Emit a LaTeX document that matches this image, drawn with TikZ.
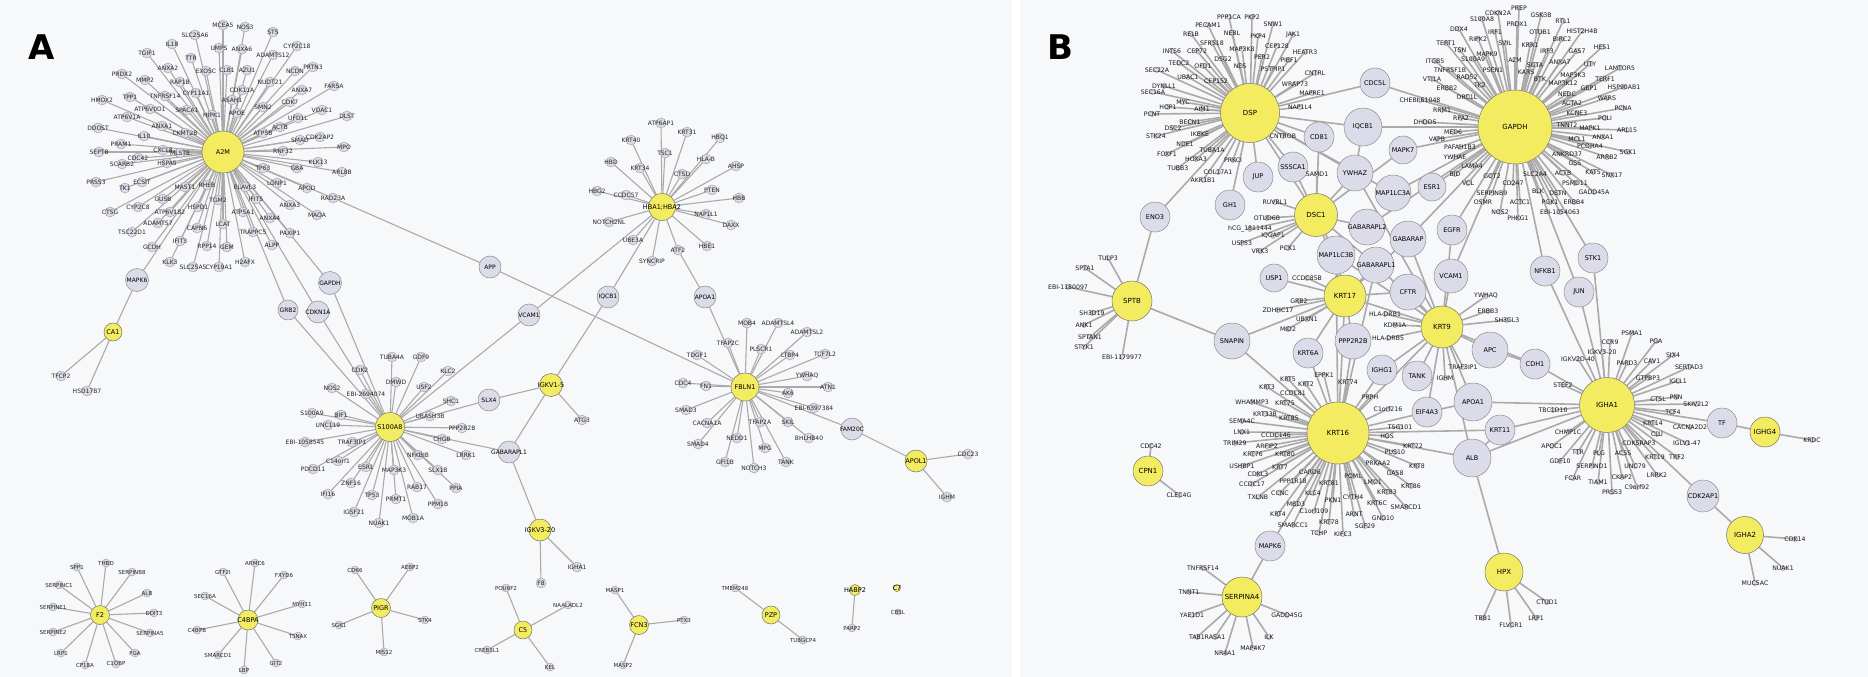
\documentclass[tikz,border=0pt]{standalone}
\usepackage{fontspec}
\setmainfont{DejaVu Sans}
\definecolor{hubyellow}{RGB}{244,236,96}
\definecolor{genelav}{RGB}{219,219,233}
\definecolor{edgegray}{RGB}{172,170,168}
\definecolor{paperbg}{RGB}{247,248,250}
\pgfdeclarelayer{paper}
\pgfdeclarelayer{edges}
\pgfsetlayers{paper,edges,main}
\tikzset{
  hubA/.style={circle, draw=black!55, fill=hubyellow, inner sep=0pt, line width=0.5pt},
  hubAtxt/.style={font=\fontsize{6.5}{6.5}\selectfont, inner sep=0pt},
  bigA/.style={circle, draw=black!45, fill=genelav, inner sep=0pt, line width=0.5pt},
  bigAtxt/.style={font=\fontsize{6}{6}\selectfont, inner sep=0pt},
  hubB/.style={circle, draw=black!55, fill=hubyellow, inner sep=0pt, line width=0.5pt},
  hubBtxt/.style={font=\fontsize{7}{7}\selectfont, inner sep=0pt},
  bigB/.style={circle, draw=black!45, fill=genelav, inner sep=0pt, line width=0.5pt},
  bigBtxt/.style={font=\fontsize{6.5}{6.5}\selectfont, inner sep=0pt},
  dotA/.style={circle, draw=black!40, fill=genelav, minimum size=10pt, inner sep=0pt, line width=0.4pt},
  txtA/.style={font=\fontsize{6}{6}\selectfont, inner sep=0pt, text=black!85},
  dotS/.style={circle, draw=black!40, fill=genelav, minimum size=8pt, inner sep=0pt, line width=0.4pt},
  txtS/.style={font=\fontsize{5.5}{5.5}\selectfont, inner sep=0pt, text=black!85},
  dotB/.style={circle, draw=black!45, fill=genelav, minimum size=5pt, inner sep=0pt, line width=0.4pt},
  txtB/.style={font=\fontsize{6.2}{6.2}\selectfont, inner sep=0pt, text=black!90},
  linkA/.style={draw=edgegray, line width=1.1pt},
  linkB/.style={draw=edgegray, line width=1.6pt},
  panel/.style={font=\bfseries\fontsize{34}{34}\selectfont, inner sep=0pt}
}
% hub, dot style, text style, list of x/y/label; remembers how many
\newcommand{\spokes}[4]{%
  \foreach \px/\py/\lb [count=\i] in {#4}{%
    \node[#2, label={[#3]center:{\lb}}] (#1-\i) at (\px,\py) {};
    \expandafter\xdef\csname nsp#1\endcsname{\i}%
  }}
% style, size, name, position, text
\newcommand{\gene}[5]{\node[#1, minimum size=#2, label={[#1txt]center:{#5}}] (#3) at (#4) {};}
\begin{document}
\begin{tikzpicture}[x=1pt, y=-1pt, line cap=round]
\useasboundingbox (0,0) rectangle (1868,677);
\begin{pgfonlayer}{paper}
  \fill[white] (0,0) rectangle (1868,677);
  \fill[paperbg] (0,0) rectangle (1012,677);
  \fill[paperbg] (1020,0) rectangle (1868,677);
\end{pgfonlayer}
\node[panel] (labA) at (42,47) {A};
\node[panel] (labB) at (1060,47) {B};

%% panel A
\gene{hubA}{42pt}{a2m}{223,152}{A2M}
\spokes{a2m}{dotA}{txtA}{223/25/MCEA5, 245/27/NOS3, 273/32/STS, 195/35/SLC25A6, 297/46/CYP2C18, 172/44/IL18, 219/48/UMPS, 242/49/ANXA6, 273/55/ADAMTS12, 147/53/TGIF1, 191/58/TTR, 168/68/ANXA2, 206/71/EXOSC, 227/70/CLB1, 247/70/AZU1, 295/71/NCDN, 313/67/PRTN3, 122/74/PRDX2, 145/80/MMP2, 180/82/RAP1B, 270/82/NUDT21, 242/90/CDK11A, 302/90/ANXA7, 334/86/FARSA, 130/97/TPP1, 165/96/TNFRSF14, 196/93/CYP11A1, 232/100/ASAH1, 263/107/SMN2, 290/102/CDK7, 102/100/HMOX2, 150/109/ATP6V0D1, 187/110/SPACA1, 212/115/HIPK1, 237/113/APOE, 322/110/VDAC1, 347/116/DLST, 127/117/ATP6V1A, 298/118/UFD1L, 98/128/DDOST, 162/126/ANXA1, 185/133/CKMT2B, 280/127/ACTB, 263/133/ATP5B, 144/136/IL10, 320/137/CDK2AP2, 300/140/SMAD, 121/144/PRAM1, 99/152/SEPT8, 163/150/CXCL8, 283/151/RNF32, 344/147/MPO, 122/164/SCARB2, 138/158/CDC42, 180/153/MLST8, 318/162/KLK13, 263/168/TP63, 297/168/GBA, 342/172/ARL8B, 167/163/HSPA5, 96/182/PRSS3, 125/188/TK1, 142/182/ECSIT, 185/187/MAST1, 207/185/RHEB, 245/187/ELAVL3, 277/183/LONP1, 307/188/APOD, 110/212/CTSG, 138/207/CYP2C8, 163/199/GUSB, 218/200/TGM2, 256/199/IFIT5, 290/205/ANXA3, 317/215/MAOA, 170/212/ATP6V1B2, 198/207/HSPD1, 243/212/ATP5A1, 270/218/ANXA4, 132/232/TSC22D1, 158/223/ADAMTS7, 197/228/CAPN6, 223/224/LCAT, 253/232/TRAPPC5, 290/233/PAXIP1, 152/247/GCDH, 180/241/IFIT3, 207/246/RPP14, 227/247/GEM, 272/245/ALPP, 170/262/KLK3, 193/267/SLC25A5, 219/267/CYP19A1, 245/262/H2AFX}
\node[dotA, label={[txtA]center:RAD23A}] (arad) at (333,198) {};
\gene{bigA}{23pt}{amapk6}{137,280}{MAPK6}
\gene{bigA}{23pt}{agapdh}{330,283}{GAPDH}
\gene{bigA}{20pt}{agrb2}{288,310}{GRB2}
\gene{bigA}{22pt}{acdkn}{318,312}{CDKN1A}
\gene{hubA}{18pt}{aca1}{113,332}{CA1}
\node[dotA, label={[txtA]center:TFCP2}] (atfcp) at (61,376) {};
\node[dotA, label={[txtA]center:HSD17B7}] (ahsd) at (87,391) {};
\gene{bigA}{22pt}{aapp}{490,267}{APP}

\gene{hubA}{29pt}{s100}{390,427}{S100A8}
\spokes{s100}{dotA}{txtA}{392/357/TUBA4A, 421/357/GDF9, 360/370/CDK2, 448/371/KLC2, 396/382/DMWD, 424/387/USF2, 332/388/NOS2, 366/394/EBI-2694074, 451/401/SHC1, 430/416/UBASH3B, 312/413/S100A9, 341/415/BIF1, 328/425/UNC119, 462/428/PPP2R2B, 305/442/EBI-1058545, 352/442/TRAF3IP1, 442/439/CHGB, 466/455/LRRK1, 338/461/C14orf1, 418/455/NFKBIB, 313/469/PDCD11, 366/467/ESR1, 394/470/MAP3K3, 438/470/SLX1B, 351/483/ZNF16, 417/487/RAB17, 456/488/PPIA, 328/494/IFI16, 372/495/TP53, 396/499/PRMT1, 438/504/PPM1B, 354/512/IGSF21, 413/518/MOB1A, 379/523/NUAK1}
\gene{bigA}{22pt}{aslx4}{489,400}{SLX4}
\gene{bigA}{22pt}{avcam}{529,315}{VCAM1}
\gene{bigA}{22pt}{agabl1}{509,452}{GABARAPL1}
\gene{bigA}{22pt}{aiqcb}{608,297}{IQCB1}
\gene{hubA}{23pt}{akv15}{551,385}{IGKV1-5}
\node[dotA, label={[txtA]center:ATG3}] (aatg3) at (582,420) {};
\gene{hubA}{22pt}{akv320}{540,530}{IGKV3-20}
\node[dotA, label={[txtA]center:IGHA1}] (aigha1) at (577,567) {};
\node[dotA, label={[txtA]center:F8}] (af8) at (541,583) {};

\gene{hubA}{27pt}{hba}{662,207}{HBA1;HBA2}
\spokes{hba}{dotA}{txtA}{661/123/ATP6AP1, 687/132/KRT31, 720/138/HBQ1, 631/140/KRT40, 665/153/TSC1, 706/159/HLA-B, 611/162/HBD, 640/168/KRT34, 736/166/AHSP, 682/174/CTSD, 712/190/PTEN, 597/191/HBG2, 626/195/CCDC57, 739/198/HBB, 706/214/NAP1L1, 609/222/NOTCH2NL, 731/225/DAXX, 633/240/UBE3A, 707/246/HBE1, 652/261/SYNCRIP}
\node[dotA, label={[txtA]center:ATF2}] (aatf2) at (678,250) {};
\gene{bigA}{22pt}{aapoa}{705,297}{APOA1}

\gene{hubA}{28pt}{fbln}{745,387}{FBLN1}
\spokes{fbln}{dotA}{txtA}{747/323/MOB4, 778/323/ADAMTSL4, 807/332/ADAMTSL2, 728/343/TFAP2C, 761/349/PLSCR1, 697/355/TDGF1, 790/355/LTBP4, 825/354/TCF7L2, 807/376/YWHAQ, 683/383/CDC4, 706/386/FN1, 828/387/ATN1, 788/393/AK6, 814/408/EBI-6397384, 686/410/SMAD3, 707/423/CACNA1A, 760/422/TFAP2A, 788/422/SKIL, 809/438/BHLHB40, 698/444/SMAD4, 737/438/NEDD1, 765/448/MPG, 725/462/GFI1B, 754/468/NOTCH3, 786/462/TANK}
\gene{bigA}{22pt}{afam}{852,429}{FAM20C}
\gene{hubA}{22pt}{aapol}{916,461}{APOL1}
\node[dotA, label={[txtA]center:CDC23}] (acdc23) at (968,454) {};
\node[dotA, label={[txtA]center:IGHM}] (aighm) at (947,497) {};

% small clusters
\gene{hubA}{19pt}{af2}{100,615}{F2}
\spokes{af2}{dotS}{txtS}{77/567/SPP1, 106/563/THBD, 132/572/SERPINB8, 59/585/SERPINC1, 147/593/ALB, 53/607/SERPINE1, 154/613/DDIT3, 53/632/SERPINE2, 150/633/SERPINA5, 61/653/LRP1, 135/653/FGA, 85/665/CP18A, 116/664/C1QBP}
\gene{hubA}{20pt}{ac4}{248,620}{C4BPA}
\spokes{ac4}{dotS}{txtS}{223/572/GTF2I, 255/563/ARMC6, 284/575/FXYD6, 205/596/SEC16A, 302/604/MYH11, 197/630/C4BPB, 298/636/TSNAX, 218/655/SMARCD1, 276/663/GIT2, 244/670/LBP}
\gene{hubA}{19pt}{apigr}{381,608}{PIGR}
\spokes{apigr}{dotS}{txtS}{355/570/CDK6, 410/567/AEBP2, 339/625/SGK1, 425/620/STK4, 384/652/MIS12}
\gene{hubA}{18pt}{ac5}{523,630}{C5}
\spokes{ac5}{dotS}{txtS}{506/588/POU6F2, 568/605/NAALADL2, 487/650/CREB3L1, 550/667/KEL}
\gene{hubA}{19pt}{afcn}{639,625}{FCN3}
\spokes{afcn}{dotS}{txtS}{615/590/MASP1, 684/620/PTX3, 623/665/MASP2}
\gene{hubA}{18pt}{apzp}{771,615}{PZP}
\spokes{apzp}{dotS}{txtS}{735/588/TMEM248, 803/640/TUBGCP4}
\gene{hubA}{11pt}{ahabp}{855,590}{HABP2}
\spokes{ahabp}{dotS}{txtS}{852/628/PARP2}
\gene{hubA}{7pt}{ac7}{897,588}{C7}
\node[dotS, minimum size=6pt, label={[txtS]center:CBSL}] (acbsl) at (898,612) {};

%% panel B
\gene{hubB}{59pt}{bdsp}{1250,113}{DSP}
\spokes{bdsp}{dotB}{txtB}{1229/17/PPP1CA, 1252/17/PKP2, 1208/25/PECAM1, 1273/24/SNW1, 1191/34/RELB, 1232/33/NEBL, 1258/36/PKP4, 1293/35/JAK1, 1212/43/SFRS18, 1242/49/MAP3K8, 1277/46/CEP128, 1172/51/INTS6, 1197/51/CEP72, 1305/52/HEATR3, 1223/59/DSG2, 1262/57/PER2, 1179/63/TEDC2, 1203/66/OFD1, 1240/66/NES, 1289/60/PIBF1, 1157/70/SEC22A, 1273/69/PSTPIP1, 1315/73/CNTRL, 1188/77/UBAC1, 1216/81/CEP152, 1164/86/DYNLL1, 1295/84/WRAP73, 1153/92/SEC16A, 1312/93/MAPRE1, 1183/102/MYC, 1202/109/AIM1, 1168/107/HOP1, 1152/114/PCNT, 1300/107/NAP1L4, 1190/122/BECN1, 1173/128/DSC2, 1156/136/STK24, 1200/134/IKBKE, 1185/144/NDE1, 1283/136/CNTROB, 1167/154/FOXF1, 1212/150/TUBA1A, 1196/159/HOXA3, 1233/160/PRKCI, 1178/168/TUBB3, 1218/172/COL17A1, 1203/180/AKR1B1}

\gene{hubB}{74pt}{bgapdh}{1515,127}{GAPDH}
\spokes{bgapdh}{dotB}{txtB}{1498/13/CDKN2A, 1519/8/PREP, 1541/15/GSK3B, 1482/19/S100A8, 1517/24/PRDX1, 1563/21/RTL1, 1459/29/DDX4, 1495/32/IRF1, 1540/32/OTUB1, 1582/31/HIST2H4B, 1446/43/TERT1, 1478/39/RIPK2, 1505/43/SVIL, 1530/45/KRR1, 1562/39/BIRC2, 1547/51/IRF3, 1577/51/GAS7, 1602/47/HES1, 1460/50/TSN, 1487/54/MAPK9, 1435/61/ITGB5, 1473/59/S100A9, 1515/60/A2M, 1535/65/SGTA, 1560/62/ANXA7, 1590/64/UTY, 1620/68/LAMTOR5, 1450/70/TNFRSF1B, 1493/70/PSEN1, 1526/72/KARS, 1540/79/BTK, 1573/75/MAP3K3, 1605/79/TERF1, 1432/79/VTI1A, 1467/77/RAD52, 1480/85/TK2, 1563/83/MAP3K12, 1624/87/HSP90AB1, 1447/88/ERBB2, 1567/94/NEDC, 1589/88/GBP1, 1420/100/CHEBI:61048, 1467/97/ORC1L, 1572/103/ACTA2, 1607/98/WARS, 1442/110/RRM1, 1577/113/KCNE3, 1623/108/PCNA, 1425/122/DHDDS, 1461/118/RPA2, 1567/125/TNNT2, 1605/118/POLI, 1590/128/MAPK1, 1627/130/ARL15, 1453/132/MED6, 1437/139/VAPB, 1577/139/MCL1, 1603/137/ANXA1, 1460/147/PAFAH1B3, 1590/146/PCDHA4, 1628/152/SGK1, 1455/157/YWHAE, 1567/154/ANKRD37, 1607/157/ARRB2, 1472/166/LAMA4, 1575/163/GSS, 1593/172/KAT5, 1612/175/SNX17, 1455/174/BID, 1492/176/GOT2, 1535/174/SLC2A4, 1563/173/ACTB, 1468/183/VCL, 1513/183/CD247, 1575/183/PSMD11, 1492/193/SERPINB9, 1538/191/BLK, 1558/193/DSTN, 1594/192/GADD45A, 1483/202/OSMR, 1520/202/ACTC1, 1550/202/PGK1, 1574/202/ERBB4, 1500/212/NOS2, 1560/212/EBI-1054063, 1518/218/PHKG1}

\gene{bigB}{30pt}{bcdc5l}{1375,83}{CDC5L}
\gene{bigB}{38pt}{biqcb}{1363,127}{IQCB1}
\gene{bigB}{30pt}{bcd81}{1319,137}{CD81}
\gene{bigB}{30pt}{bsssca}{1293,167}{SSSCA1}
\gene{bigB}{30pt}{bjup}{1258,177}{JUP}
\gene{bigB}{36pt}{bywhaz}{1355,173}{YWHAZ}
\gene{bigB}{30pt}{bgh1}{1230,205}{GH1}
\gene{bigB}{30pt}{beno3}{1155,217}{ENO3}
\gene{bigB}{36pt}{blc3a}{1393,193}{MAP1LC3A}
\gene{bigB}{28pt}{bmapk7}{1403,150}{MAPK7}
\gene{bigB}{28pt}{besr1}{1432,187}{ESR1}
\gene{bigB}{36pt}{bgabl2}{1367,227}{GABARAPL2}
\gene{bigB}{38pt}{blc3b}{1336,255}{MAP1LC3B}
\gene{bigB}{36pt}{bgabl1}{1376,265}{GABARAPL1}
\gene{bigB}{36pt}{bgab}{1408,239}{GABARAP}
\gene{bigB}{30pt}{begfr}{1452,230}{EGFR}
\gene{bigB}{34pt}{bvcam}{1451,276}{VCAM1}
\gene{bigB}{30pt}{bnfkb}{1545,271}{NFKB1}
\gene{bigB}{30pt}{bstk1}{1593,258}{STK1}
\gene{bigB}{30pt}{bjun}{1579,292}{JUN}
\gene{bigB}{36pt}{bcftr}{1408,292}{CFTR}
\gene{bigB}{28pt}{busp1}{1274,278}{USP1}
\gene{bigB}{36pt}{bsnap}{1232,341}{SNAPIN}
\gene{bigB}{36pt}{bppp}{1353,341}{PPP2R2B}
\gene{bigB}{30pt}{bkrt6a}{1308,353}{KRT6A}
\gene{bigB}{30pt}{bighg1}{1382,370}{IGHG1}
\gene{bigB}{30pt}{btank}{1417,376}{TANK}
\gene{bigB}{36pt}{bapc}{1490,350}{APC}
\gene{bigB}{30pt}{bcdh1}{1535,364}{CDH1}
\gene{bigB}{30pt}{beif}{1427,412}{EIF4A3}
\gene{bigB}{38pt}{bapoa}{1473,402}{APOA1}
\gene{bigB}{30pt}{bkrt11}{1500,430}{KRT11}
\gene{bigB}{38pt}{balb}{1472,458}{ALB}
\gene{bigB}{30pt}{bmapk6}{1270,546}{MAPK6}
\gene{bigB}{30pt}{btf}{1722,423}{TF}
\gene{bigB}{32pt}{bcdk2ap}{1703,496}{CDK2AP1}

\gene{hubB}{43pt}{bdsc1}{1316,215}{DSC1}
\spokes{bdsc1}{dotB}{txtB}{1275/202/RUVBL1, 1267/218/OTUD6B, 1250/229/hCG\_1811444, 1273/236/IQGAP1, 1242/243/USP53, 1260/251/VRK3, 1288/248/PCK1, 1317/174/SAMD1}
\gene{hubB}{40pt}{bsptb}{1132,301}{SPTB}
\spokes{bsptb}{dotB}{txtB}{1108/258/TULP3, 1085/268/SPTA1, 1068/287/EBI-1180097, 1092/313/SH3D19, 1084/325/ANK1, 1090/337/SPTAN1, 1084/347/STYK1, 1122/357/EBI-1179977}
\gene{hubB}{42pt}{bkrt17}{1345,296}{KRT17}
\spokes{bkrt17}{dotB}{txtB}{1307/278/CCDC85B, 1299/301/GRB2, 1278/310/ZDHHC17, 1307/319/UBXN1, 1288/329/MID2}
\gene{hubB}{42pt}{bkrt9}{1442,327}{KRT9}
\spokes{bkrt9}{dotB}{txtB}{1486/296/YWHAQ, 1488/311/ERBB3, 1507/320/SH3GL3, 1385/314/HLA-DRB1, 1395/325/KDM1A, 1388/338/HLA-DRB5, 1463/367/TRAF3IP1, 1445/378/IGHM}
\gene{hubB}{62pt}{bkrt16}{1338,433}{KRT16}
\spokes{bkrt16}{dotB}{txtB}{1288/379/KRT5, 1306/384/KRT2, 1324/375/EPPK1, 1348/382/KRT74, 1267/387/KRT3, 1293/393/CCDC81, 1252/402/WHAMMP3, 1285/403/KRT75, 1370/397/PRPH, 1265/414/KRT33B, 1289/418/KRT85, 1388/409/C1orf216, 1242/421/SEMA4C, 1242/432/LNX1, 1276/435/CCDC146, 1400/427/TSG101, 1387/436/HGS, 1235/443/TRIM29, 1267/446/ARFIP2, 1413/446/KRT72, 1253/454/KRT76, 1285/454/KRT80, 1395/452/PUS10, 1242/466/USHBP1, 1280/467/KRT7, 1310/472/CARD6, 1378/463/PRKAA2, 1417/466/KRT8, 1258/474/CDKL3, 1293/481/PPP1R18, 1353/476/POML, 1395/473/GAS8, 1252/484/CCDC17, 1329/483/KRT81, 1373/482/LMO1, 1411/486/KRT86, 1258/497/TXLNB, 1280/493/CCNC, 1313/493/KLC4, 1353/497/CYTH4, 1387/492/KRT83, 1333/500/PKN1, 1296/504/MBD3, 1377/503/KRT6C, 1406/507/SMARCD1, 1314/511/C1orf109, 1278/514/KRT4, 1354/514/ARNT, 1329/522/KRT78, 1383/518/GNG10, 1293/525/SMARCC1, 1365/526/SGF29, 1319/533/TCHP, 1343/534/KIFC3}
\gene{hubB}{40pt}{bserp}{1242,597}{SERPINA4}
\spokes{bserp}{dotB}{txtB}{1203/568/TNFRSF14, 1189/592/TNNT1, 1192/615/YAE1D1, 1287/615/GADD45G, 1197/637/TAB1, 1215/637/RASA1, 1225/653/NR4A1, 1253/648/MAP4K7, 1269/637/ILK}
\gene{hubB}{30pt}{bcpn1}{1148,471}{CPN1}
\spokes{bcpn1}{dotB}{txtB}{1151/446/CDC42, 1179/495/CLEC4G}
\gene{hubB}{38pt}{bhpx}{1504,572}{HPX}
\spokes{bhpx}{dotB}{txtB}{1483/618/TBB1, 1511/625/FLVCR1, 1536/618/LRP1, 1547/602/CTUD1}
\gene{hubB}{55pt}{bigha1}{1607,405}{IGHA1}
\spokes{bigha1}{dotB}{txtB}{1632/333/PSMA1, 1656/341/PGA, 1610/342/CCR9, 1602/352/IGKV3-20, 1578/359/IGKV2D-40, 1627/363/PARD3, 1652/361/CAV1, 1673/355/SIX4, 1689/367/SERTAD3, 1648/378/GTPBP3, 1678/381/IGLL1, 1563/385/STEF2, 1658/399/CTSL, 1676/397/PNN, 1696/404/SKIV2L2, 1553/410/TBC1D10, 1673/412/TCF4, 1690/427/CACNA2D2, 1653/423/KRT14, 1568/432/CHMP1C, 1657/434/CLU, 1552/446/APOC1, 1639/443/CDK5RAP3, 1687/443/IGLV1-47, 1578/452/TTR, 1599/453/PLG, 1623/453/ACSS, 1655/457/KRT19, 1677/457/TRF2, 1560/461/GDF10, 1592/466/SERPIND1, 1635/466/UNC79, 1657/475/LRRK2, 1573/478/FCAR, 1598/482/TIAM1, 1622/477/CKAP2, 1612/492/PRSS3, 1637/487/C9orf92}
\gene{hubB}{30pt}{bighg4}{1765,432}{IGHG4}
\spokes{bighg4}{dotB}{txtB}{1812/440/KRDC}
\gene{hubB}{37pt}{bigha2}{1745,535}{IGHA2}
\spokes{bigha2}{dotB}{txtB}{1795/539/CDK14, 1783/568/NUAK1, 1755/583/MUC5AC}

\begin{pgfonlayer}{edges}
% spokes
\foreach \h in {a2m,s100,hba,fbln,af2,ac4,apigr,ac5,afcn,apzp,ahabp}{
  \edef\nn{\csname nsp\h\endcsname}
  \foreach \i in {1,...,\nn} \draw[linkA] (\h) -- (\h-\i);}
\foreach \h in {bdsp,bgapdh,bdsc1,bsptb,bkrt17,bkrt9,bkrt16,bserp,bcpn1,bhpx,bigha1,bighg4,bigha2}{
  \edef\nn{\csname nsp\h\endcsname}
  \foreach \i in {1,...,\nn} \draw[linkB] (\h) -- (\h-\i);}
% links between named nodes
\foreach \u/\v in {a2m/agapdh, a2m/amapk6, a2m/agrb2, a2m/acdkn, a2m/arad, arad/aapp, aapp/fbln,
    amapk6/aca1, aca1/atfcp, aca1/ahsd, s100/agapdh, s100/agrb2, s100/acdkn, s100/aslx4,
    s100/avcam, s100/agabl1, avcam/hba, aiqcb/hba, aiqcb/akv15, aslx4/akv15, akv15/aatg3,
    akv15/agabl1, agabl1/akv320, akv320/aigha1, akv320/af8, hba/aatf2, aatf2/aapoa,
    aapoa/fbln, fbln/afam, afam/aapol, aapol/acdc23, aapol/aighm}
  \draw[linkA] (\u) -- (\v);
\foreach \u/\v in {bdsp/bcdc5l, bdsp/biqcb, bdsp/bcd81, bdsp/bsssca, bdsp/bjup, bdsp/bgh1,
    bdsp/beno3, bdsp/bdsc1, bdsp/bywhaz, bdsp/blc3a, beno3/bsptb, bsptb/bsnap,
    bgapdh/bcdc5l, bgapdh/biqcb, bgapdh/bmapk7, bgapdh/besr1, bgapdh/blc3a, bgapdh/bgab,
    bgapdh/begfr, bgapdh/bvcam, bgapdh/bnfkb, bgapdh/bstk1, bgapdh/bjun, bgapdh/bgabl2,
    biqcb/bywhaz, bdsc1/bsssca, bdsc1/bywhaz, bdsc1/bgabl2, bdsc1/blc3b, bdsc1/bkrt17,
    bdsc1/bgabl1, bdsc1/bcd81, bdsc1/bmapk7, bkrt17/busp1, bkrt17/blc3b, bkrt17/bgabl1,
    bkrt17/bcftr, bkrt17/bkrt9, bkrt17/bsnap, bkrt17/bkrt6a, bkrt17/bppp, bkrt17/bkrt16,
    bkrt17/bgab, bkrt9/bcftr, bkrt9/bvcam, bkrt9/bgabl1, bkrt9/bywhaz, bkrt9/blc3b,
    bkrt9/bighg1, bkrt9/btank, bkrt9/bapoa, bkrt9/beif, bkrt9/balb, bkrt9/bapc,
    bkrt9/bcdh1, bkrt9/bkrt16, bkrt9/begfr, bkrt9/bgab, bkrt16/bsnap, bkrt16/bkrt6a,
    bkrt16/bppp, bkrt16/bighg1, bkrt16/beif, bkrt16/bkrt11, bkrt16/balb, bkrt16/bmapk6,
    bkrt16/blc3b, bkrt16/bgabl1, bmapk6/bserp, balb/bhpx, balb/bkrt11, balb/bigha1,
    bapoa/bigha1, bapoa/beif, bkrt11/bigha1, bcdh1/bigha1, bapc/bcdh1, bigha1/bnfkb,
    bigha1/bjun, bigha1/bstk1, bigha1/btf, btf/bighg4, bigha1/bcdk2ap, bcdk2ap/bigha2}
  \draw[linkB] (\u) -- (\v);
\end{pgfonlayer}
\end{tikzpicture}
\end{document}
